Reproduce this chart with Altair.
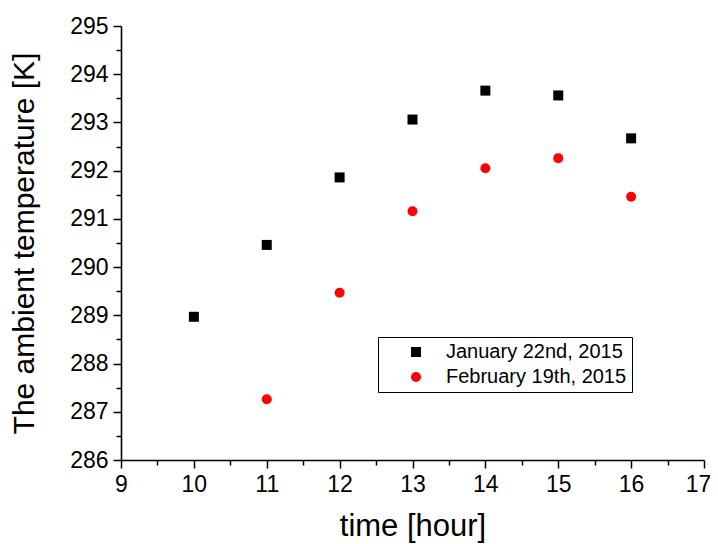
import altair as alt
import pandas as pd

hours_jan = [10, 11, 12, 13, 14, 15, 16]
temp_jan = [288.97, 290.46, 291.86, 293.06, 293.66, 293.56, 292.67]
hours_feb = [11, 12, 13, 14, 15, 16]
temp_feb = [287.26, 289.47, 291.16, 292.05, 292.26, 291.46]
series = ["January 22nd, 2015", "February 19th, 2015"]

x_ticks = [9 + 0.5 * i for i in range(17)]
y_ticks = [286 + 0.5 * i for i in range(19)]

df = pd.DataFrame({
    "time": hours_jan + hours_feb,
    "temp": temp_jan + temp_feb,
    "series": [series[0]] * len(hours_jan) + [series[1]] * len(hours_feb),
})

FONT = "Liberation Sans"

x_axis = alt.Axis(
    values=x_ticks,
    format=".0f",
    labelExpr="datum.value % 1 === 0 ? datum.label : ''",
    grid=False,
    domainColor="black", domainWidth=1.6,
    tickColor="black", tickWidth=1.5,
    tickSize={"condition": {"test": "datum.value % 1 !== 0", "value": 5}, "value": 8},
    labelOffset={"condition": {"test": "datum.value === 17", "value": -6}, "value": 0},
    labelFont=FONT, labelFontSize=23, labelColor="black", labelPadding=5,
    labelFlush=False, labelOverlap=False,
    title="time [hour]", titleFont=FONT, titleFontSize=31, titleFontWeight="normal",
    titleColor="black", titlePadding=15,
)
y_axis = alt.Axis(
    values=y_ticks,
    format=".0f",
    labelExpr="datum.value % 1 === 0 ? datum.label : ''",
    grid=False,
    domainColor="black", domainWidth=1.6,
    tickColor="black", tickWidth=1.5,
    tickSize={"condition": {"test": "datum.value % 1 !== 0", "value": 5}, "value": 8},
    labelFont=FONT, labelFontSize=23, labelColor="black", labelPadding=5,
    labelFlush=False, labelOverlap=False,
    title="The ambient temperature [K]", titleFont=FONT, titleFontSize=30,
    titleFontWeight="normal", titleColor="black",
    titleX=-88, titleBaseline="alphabetic",
)

chart = alt.Chart(df).mark_point(filled=True, opacity=1, size=100, strokeWidth=0).encode(
    x=alt.X("time:Q", scale=alt.Scale(domain=[9, 17], nice=False, zero=False), axis=x_axis),
    y=alt.Y("temp:Q", scale=alt.Scale(domain=[286, 295], nice=False, zero=False), axis=y_axis),
    color=alt.Color("series:N", scale=alt.Scale(domain=series, range=["black", "red"]),
                    legend=alt.Legend(title=None, orient="none", legendX=257, legendY=311,
                                      labelFont=FONT, labelFontSize=20, labelColor="black",
                                      labelLimit=400,
                                      strokeColor="black", padding=5,
                                      symbolOffset=23, labelOffset=20, rowPadding=5,
                                      symbolSize=100, symbolStrokeWidth=0)),
    shape=alt.Shape("series:N", scale=alt.Scale(domain=series, range=["square", "circle"])),
).properties(
    width=583, height=434,
    background="white",
    autosize=alt.AutoSizeParams(type="none"),
    padding={"left": 113, "top": 18, "right": 6, "bottom": 84},
).configure_view(stroke=None).configure_legend(strokeWidth=1)

chart.save("out.html", embed_options={"renderer": "svg", "actions": False})
